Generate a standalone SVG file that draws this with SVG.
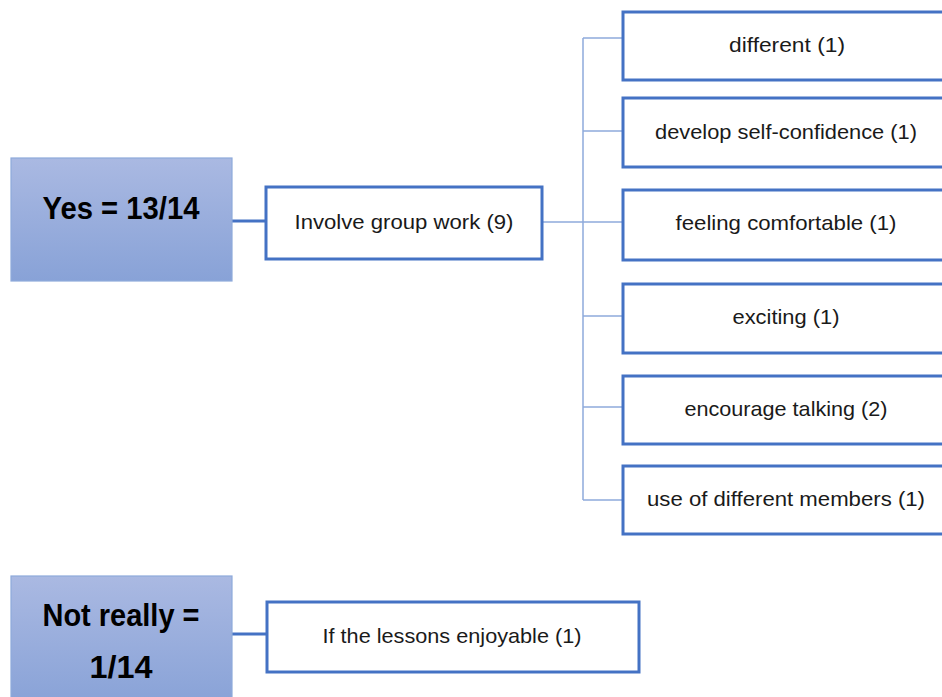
<svg xmlns="http://www.w3.org/2000/svg" width="942" height="697" viewBox="0 0 942 697">
<defs>
<linearGradient id="g" x1="0" y1="0" x2="0" y2="1">
<stop offset="0" stop-color="#aab9e2"/>
<stop offset="1" stop-color="#88a2d7"/>
</linearGradient>
<style>
.root{fill:url(#g);stroke:#8eaadb;stroke-width:1.2}
.box{fill:#fff;stroke:#4472c4;stroke-width:3}
.rt{font-family:"Liberation Sans",Arial,sans-serif;font-weight:bold;font-size:31px;fill:#000;text-anchor:middle}
.t{font-family:"Liberation Sans",Arial,sans-serif;font-size:21px;fill:#1a1a1a;text-anchor:middle}
.thick{stroke:#4472c4;stroke-width:3;fill:none}
.thin{stroke:#8eaadb;stroke-width:1.5;fill:none}
</style>
</defs>
<rect width="942" height="697" fill="#fff"/>
<g id="connectors">
<line class="thick" x1="232" y1="221" x2="266" y2="221"/>
<line class="thick" x1="232" y1="634" x2="267" y2="634"/>
<line class="thin" x1="542" y1="222" x2="583" y2="222"/>
<line class="thin" x1="583" y1="38" x2="583" y2="500"/>
<line class="thin" x1="583" y1="38" x2="623" y2="38"/>
<line class="thin" x1="583" y1="131" x2="623" y2="131"/>
<line class="thin" x1="583" y1="222" x2="623" y2="222"/>
<line class="thin" x1="583" y1="316" x2="623" y2="316"/>
<line class="thin" x1="583" y1="407" x2="623" y2="407"/>
<line class="thin" x1="583" y1="500" x2="623" y2="500"/>
</g>
<g id="yes">
<rect class="root" x="11" y="158" width="221" height="123"/>
<text class="rt" x="121" y="219" textLength="157" lengthAdjust="spacingAndGlyphs">Yes = 13/14</text>
</g>
<g id="involve">
<rect class="box" x="266" y="187" width="276" height="72"/>
<text class="t" x="404" y="229" textLength="219" lengthAdjust="spacingAndGlyphs">Involve group work (9)</text>
</g>
<g id="different">
<rect class="box" x="623" y="12" width="330" height="68"/>
<text class="t" x="787" y="52" textLength="116" lengthAdjust="spacingAndGlyphs">different (1)</text>
</g>
<g id="confidence">
<rect class="box" x="623" y="98" width="330" height="69"/>
<text class="t" x="786" y="139" textLength="262" lengthAdjust="spacingAndGlyphs">develop self-confidence (1)</text>
</g>
<g id="comfortable">
<rect class="box" x="623" y="190" width="330" height="70"/>
<text class="t" x="786" y="230" textLength="221" lengthAdjust="spacingAndGlyphs">feeling comfortable (1)</text>
</g>
<g id="exciting">
<rect class="box" x="623" y="284" width="330" height="69"/>
<text class="t" x="786" y="324" textLength="107" lengthAdjust="spacingAndGlyphs">exciting (1)</text>
</g>
<g id="talking">
<rect class="box" x="623" y="376" width="330" height="68"/>
<text class="t" x="786" y="416" textLength="203" lengthAdjust="spacingAndGlyphs">encourage talking (2)</text>
</g>
<g id="members">
<rect class="box" x="623" y="466" width="330" height="68"/>
<text class="t" x="786" y="506" textLength="278" lengthAdjust="spacingAndGlyphs">use of different members (1)</text>
</g>
<g id="notreally">
<rect class="root" x="11" y="576" width="221" height="130"/>
<text class="rt" x="121" y="626" textLength="157" lengthAdjust="spacingAndGlyphs">Not really =</text>
<text class="rt" x="121" y="678" textLength="63" lengthAdjust="spacingAndGlyphs">1/14</text>
</g>
<g id="enjoyable">
<rect class="box" x="267" y="602" width="372" height="70"/>
<text class="t" x="452" y="643" textLength="259" lengthAdjust="spacingAndGlyphs">If the lessons enjoyable (1)</text>
</g>
</svg>
